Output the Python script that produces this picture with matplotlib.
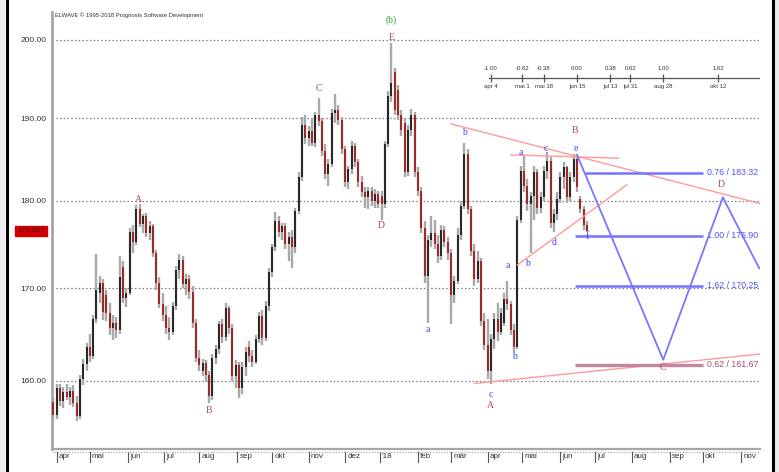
import numpy as np
import pandas as pd
import matplotlib
matplotlib.use('Agg')
import matplotlib.pyplot as plt
from matplotlib.lines import Line2D
from matplotlib.patches import Rectangle
from matplotlib.ticker import NullLocator, NullFormatter

# ---------------- data ----------------
BASE = '2017-04-03'          # business-day index origin of the time axis
bar_start = '2017-03-30'     # first (2-business-day) bar

opens = [
    157.8, 156.4, 159.2, 157.9, 158.8, 158.3, 158.9, 157.7, 156.3, 160.2,
    161.7, 163.6, 162.6, 166.6, 169.5, 170.6, 169.2, 167.3, 165.6, 166.2,
    165.4, 172.4, 168.9, 169.5, 176.4, 175.2, 179.0, 177.3, 178.2, 176.3,
    177.0, 174.0, 170.6, 168.2, 167.0, 165.6, 165.2, 168.0, 172.0, 173.2,
    170.5, 171.0, 169.6, 166.2, 162.4, 161.0, 161.9, 160.6, 158.4, 162.4,
    163.4, 166.0, 164.6, 167.8, 165.6, 160.5, 161.6, 159.2, 161.4, 163.6,
    162.6, 162.0, 164.4, 166.9, 164.5, 168.0, 171.8, 174.6, 177.6, 176.4,
    177.0, 175.0, 175.8, 174.6, 178.8, 182.8, 189.2, 187.6, 188.4, 187.0,
    190.4, 189.6, 186.0, 183.2, 184.4, 190.6, 191.0, 189.8, 186.2, 182.2,
    183.8, 186.6, 184.6, 182.2, 181.0, 180.4, 181.2, 180.0, 180.8, 180.6,
    179.6, 186.8, 192.8, 195.8, 193.6, 190.4, 189.4, 183.4, 188.6, 190.4,
    183.4, 181.2, 176.8, 171.4, 175.4, 176.2, 175.0, 173.6, 176.6, 175.2,
    174.0, 169.2, 170.8, 176.0, 179.4, 185.6, 179.0, 174.2, 171.0, 173.0,
    166.4, 163.8, 161.0, 164.4, 166.6, 165.2, 166.2, 168.8, 168.2, 165.4,
    163.6, 177.8, 183.6, 181.8, 179.6, 180.6, 183.4, 179.2, 180.4, 183.6,
    184.8, 177.4, 178.4, 180.2, 182.8, 184.0, 180.4, 182.8, 185.0, 180.2,
    179.0, 177.2]
highs = [
    158.3, 159.6, 159.6, 159.3, 159.6, 159.3, 159.5, 158.4, 160.6, 162.3,
    164.0, 165.0, 167.0, 173.8, 171.3, 171.0, 169.8, 168.4, 167.0, 166.8,
    173.6, 173.0, 170.0, 176.8, 177.2, 179.5, 179.6, 178.5, 178.6, 177.6,
    177.3, 174.3, 171.2, 169.5, 168.0, 166.8, 168.5, 172.5, 173.8, 173.6,
    171.6, 171.5, 170.2, 166.6, 163.2, 162.3, 162.2, 161.0, 162.8, 163.8,
    166.4, 166.6, 168.4, 168.0, 166.0, 162.2, 162.0, 162.0, 163.6, 164.2,
    163.2, 164.8, 167.4, 167.6, 168.6, 172.2, 175.0, 178.7, 178.2, 177.4,
    177.4, 176.4, 176.6, 179.2, 183.4, 190.2, 190.4, 189.0, 190.0, 190.8,
    192.6, 190.0, 186.8, 185.0, 191.2, 193.1, 191.6, 190.2, 186.6, 184.2,
    187.2, 187.0, 185.0, 183.0, 181.6, 181.6, 181.6, 181.4, 181.2, 181.2,
    187.2, 193.4, 199.6, 196.4, 194.2, 191.0, 190.0, 189.2, 191.2, 190.8,
    184.0, 181.6, 177.6, 176.0, 178.2, 177.8, 176.0, 177.2, 177.0, 175.8,
    174.4, 171.4, 176.8, 180.0, 186.9, 186.2, 179.4, 175.0, 174.2, 173.4,
    167.2, 166.6, 165.0, 167.2, 168.4, 167.8, 169.4, 170.8, 168.6, 166.0,
    178.2, 184.2, 185.4, 182.6, 181.0, 184.2, 183.8, 181.0, 184.2, 185.8,
    185.2, 179.0, 181.0, 183.4, 184.6, 184.2, 183.4, 185.6, 185.4, 180.6,
    179.4, 177.6]
lows = [
    155.8, 156.0, 157.4, 157.2, 158.0, 157.5, 157.3, 155.8, 156.0, 159.5,
    161.0, 162.0, 162.3, 166.2, 168.4, 166.5, 166.4, 164.8, 164.3, 164.5,
    165.0, 168.4, 167.9, 169.2, 174.0, 174.9, 176.9, 176.3, 175.8, 175.4,
    173.5, 169.8, 167.8, 166.4, 165.0, 164.3, 164.8, 167.6, 171.0, 170.0,
    169.2, 168.8, 165.6, 162.0, 161.0, 160.5, 159.9, 157.7, 158.0, 161.8,
    162.8, 164.0, 164.2, 165.0, 160.0, 159.2, 158.2, 158.6, 160.5, 162.0,
    161.4, 161.8, 164.0, 163.8, 164.2, 167.5, 171.2, 174.2, 175.8, 175.4,
    174.4, 173.0, 172.2, 174.0, 178.4, 182.4, 186.8, 186.6, 186.6, 186.4,
    189.0, 185.4, 182.6, 181.8, 184.0, 189.4, 189.2, 185.6, 181.6, 181.4,
    183.2, 184.0, 181.6, 180.4, 179.2, 179.0, 179.4, 179.2, 179.2, 177.8,
    179.2, 186.4, 192.0, 190.4, 189.8, 187.8, 182.8, 183.0, 187.8, 182.8,
    180.6, 176.2, 170.6, 166.2, 174.6, 174.4, 172.8, 173.2, 174.6, 173.2,
    166.0, 168.4, 170.4, 175.4, 179.0, 178.4, 173.6, 170.2, 170.6, 165.8,
    163.2, 160.2, 159.6, 163.4, 164.2, 164.8, 165.8, 167.6, 164.8, 163.0,
    163.4, 177.4, 181.0, 178.8, 174.0, 177.8, 178.4, 178.6, 180.0, 182.6,
    176.8, 176.4, 177.8, 179.8, 181.4, 179.8, 180.0, 182.2, 181.0, 178.6,
    176.6, 176.4]
closes = [
    156.4, 159.2, 157.9, 158.8, 158.3, 158.9, 157.7, 156.3, 160.2, 161.7,
    163.6, 162.6, 166.6, 169.8, 170.6, 167.4, 167.3, 165.6, 166.2, 165.4,
    171.2, 168.9, 169.5, 176.4, 175.2, 179.0, 177.3, 178.2, 176.3, 177.0,
    174.0, 170.6, 168.2, 167.0, 165.6, 165.2, 168.0, 172.0, 173.2, 170.5,
    171.0, 169.6, 166.2, 162.4, 161.6, 161.9, 160.6, 158.4, 162.4, 163.4,
    166.0, 164.6, 167.8, 165.6, 160.5, 161.6, 159.2, 161.4, 163.0, 162.6,
    162.0, 164.4, 166.9, 164.5, 168.0, 171.8, 174.6, 177.6, 176.4, 177.0,
    175.0, 175.8, 174.6, 178.8, 182.8, 189.2, 187.6, 188.4, 187.0, 190.4,
    189.6, 186.0, 183.2, 184.4, 190.6, 191.0, 189.8, 186.2, 182.2, 183.8,
    186.6, 184.6, 182.2, 181.0, 180.4, 181.2, 180.0, 180.8, 179.6, 179.6,
    186.8, 192.8, 194.4, 191.0, 190.4, 188.6, 183.4, 188.6, 190.4, 183.4,
    181.2, 176.8, 171.4, 175.4, 176.2, 175.0, 173.6, 176.6, 175.2, 174.0,
    169.2, 170.8, 176.0, 179.4, 185.6, 179.0, 174.2, 171.0, 173.0, 166.4,
    163.8, 161.0, 164.4, 166.6, 165.2, 167.2, 168.8, 168.2, 165.4, 163.6,
    177.8, 183.6, 181.8, 179.6, 180.6, 183.4, 179.2, 180.4, 183.6, 184.8,
    177.4, 178.4, 180.2, 182.8, 184.0, 180.4, 182.8, 185.0, 181.6, 179.0,
    177.2, 176.5]

month_labels = ['apr', 'mai', 'jun', 'jul', 'aug', 'sep', 'okt', 'nov', 'dez', "'18",
                'feb', 'mär', 'apr', 'mai', 'jun', 'jul', 'aug', 'sep', 'okt', 'nov']
y_ticks = [160, 170, 180, 190, 200]
y_tick_labels = ['160.00', '170.00', '180.00', '190.00', '200.00']
last_price_label = '176.507'

# Elliott wave labels (date, price, text)
wave_caps = [('2017-06-09', 180.1, 'A'), ('2017-08-09', 156.9, 'B'), ('2017-11-09', 193.7, 'C'),
             ('2018-01-02', 177.1, 'D'), ('2018-01-10', 200.3, 'E'), ('2018-06-14', 188.5, 'B'),
             ('2018-04-04', 157.4, 'A'), ('2018-08-28', 161.4, 'C'), ('2018-10-16', 181.9, 'D')]
wave_green = [('2018-01-10', 202.6, '(b)')]
wave_small = [('2018-03-13', 188.2, 'b'), ('2018-02-09', 165.4, 'a'), ('2018-04-04', 158.5, 'c'),
              ('2018-04-24', 162.5, 'b'), ('2018-04-18', 172.5, 'a'), ('2018-04-30', 185.8, 'a'),
              ('2018-05-04', 172.8, 'b'), ('2018-05-21', 186.3, 'c'), ('2018-05-28', 175.2, 'd'),
              ('2018-06-14', 186.3, 'e'), ('2018-06-25', 175.8, 'f')]

# trend / channel lines (dates, prices)
pink_lines = [(['2018-03-01', '2018-11-16'], [189.3, 179.7]),
              (['2018-04-20', '2018-07-20'], [185.5, 185.1]),
              (['2018-04-26', '2018-07-27'], [172.6, 181.9]),
              (['2018-03-21', '2018-11-16'], [159.7, 162.8])]

# projected path
proj_dates = ['2018-06-15', '2018-08-28', '2018-10-17', '2018-11-16']
proj_prices = [185.5, 162.2, 180.4, 172.2]

# Fibonacci price targets
fib_ratios = ['0.76', '1.00', '1.62', '0.62']
fib_values = [183.32, 175.90, 170.25, 161.67]
fib_starts = ['2018-06-22', '2018-06-14', '2018-06-14', '2018-06-14']
fib_end = '2018-10-01'

# Fibonacci time ruler
ruler_ratios = ['-1.00', '-0.62', '-0.38', '0.00', '0.38', '0.62', '1.00', '1.62']
ruler_dates = ['2018-04-04', '2018-05-01', '2018-05-18', '2018-06-15',
               '2018-07-13', '2018-07-31', '2018-08-28', '2018-10-12']
ruler_date_labels = ['apr 4', 'mai 1', 'mai 18', 'jun 15', 'jul 13', 'jul 31', 'aug 28', 'okt 12']
ruler_price = 195.1


def bx(d):
    return np.busday_count(np.datetime64(BASE, 'D'), np.asarray(d, dtype='datetime64[D]'))


# ---------------- figure ----------------
W, H = 779, 472
fig = plt.figure(figsize=(W / 100, H / 100), dpi=100)
fig.patch.set_facecolor('white')

# outer screenshot frame strips
for x0, w in [(0, 5), (774, 5)]:
    fig.add_artist(Rectangle((x0 / W, 0), w / W, 1, transform=fig.transFigure,
                             facecolor='#eeeeee', edgecolor='none'))
for xf in [6.5, 773]:
    fig.add_artist(Line2D([xf / W, xf / W], [0, 1], transform=fig.transFigure,
                          color='black', lw=2.2))

ax = fig.add_axes([52 / W, 23 / H, (760 - 52) / W, (449 - 12) / H])
ax.set_facecolor('white')
ax.set_yscale('log')
ax.set_ylim(152.99, 203.7)
ax.set_xlim(-2.84, 424.4)

# grid
ax.yaxis.set_minor_locator(NullLocator())
ax.yaxis.set_minor_formatter(NullFormatter())
ax.set_yticks(y_ticks)
ax.set_yticklabels(y_tick_labels)
ax.tick_params(axis='y', length=0, pad=4, labelsize=6, labelcolor='#333333')
for lbl in ax.get_yticklabels():
    lbl.set_fontfamily('Liberation Sans')
for v in y_ticks:
    ax.axhline(v, color='#7a7a7a', lw=0.9, ls=(0, (1.2, 1.8)), zorder=0)

ax.tick_params(axis='x', which='both', length=0, labelbottom=False)
ax.set_xticks([])
for s in ['top', 'right']:
    ax.spines[s].set_visible(False)
ax.spines['left'].set_color('#a6a6a6')
ax.spines['left'].set_linewidth(2)
ax.spines['bottom'].set_color('#a6a6a6')
ax.spines['bottom'].set_linewidth(1.6)

# month ticks & labels
month_starts = pd.date_range('2017-04-01', '2018-11-30', freq='BMS')
mx = bx(month_starts.values.astype('datetime64[D]'))
xt = ax.get_xaxis_transform()
for m, lab in zip(mx, month_labels):
    ax.plot([m, m], [-0.006, -0.03], transform=xt, color='#555555', lw=0.8, clip_on=False)
    ax.annotate(lab, xy=(m, -0.018), xycoords=xt, xytext=(1.5, 0), textcoords='offset points',
                ha='left', va='center', fontsize=5.8, color='#333333', family='Liberation Sans',
                annotation_clip=False)
ax.plot([0, 1], [-0.007, -0.007], transform=ax.transAxes, color='#9a9a9a', lw=0.8,
        ls=(0, (1, 1.5)), clip_on=False)

# candles
bar_dates = pd.bdate_range(bar_start, periods=len(closes), freq='2B').values.astype('datetime64[D]')
bxpos = bx(bar_dates)
o = np.array(opens); c = np.array(closes); h = np.array(highs); lo = np.array(lows)
ax.vlines(bxpos, lo, h, color='#a9a9a9', lw=1.7, zorder=2)
body_cols = np.where(c >= o, '#1c1c1c', '#9c1c1c')
ax.vlines(bxpos, np.minimum(o, c), np.maximum(o, c), colors=body_cols, lw=1.3, zorder=3)

# pink lines
for ds, ps in pink_lines:
    ax.plot(bx(ds), ps, color='#ff9a9a', lw=1.0, zorder=4)

# fib horizontal levels
for r, v, s in zip(fib_ratios, fib_values, fib_starts):
    col = '#c4859f' if r == '0.62' else '#7373ff'
    lw = 2.4 if r == '0.62' else 1.8
    tcol = '#a24c78' if r == '0.62' else '#5050ff'
    ax.plot(bx([s, fib_end]), [v, v], color=col, lw=lw, zorder=4, solid_capstyle='butt')
    ax.annotate(f'{r} / {v:.2f}', xy=(bx(fib_end), v), xytext=(3, 0), textcoords='offset points',
                ha='left', va='center', fontsize=6.3, color=tcol, family='Liberation Sans')

# projection
ax.plot(bx(proj_dates), proj_prices, color='#7777ff', lw=1.3, zorder=5)

# fib time ruler
rx = bx(ruler_dates)
ax.plot([rx[0] - 1, ax.get_xlim()[1]], [ruler_price, ruler_price], color='#555555', lw=0.9)
ax.plot(rx, [ruler_price] * len(rx), ls='none', marker='|', ms=6, mew=0.9, color='#555555')
for xx, r, dl in zip(rx, ruler_ratios, ruler_date_labels):
    ax.annotate(r, xy=(xx, ruler_price), xytext=(0, 6.5), textcoords='offset points',
                ha='center', va='center', fontsize=4.3, color='#333333', family='Liberation Sans')
    ax.annotate(dl, xy=(xx, ruler_price), xytext=(0, -6.5), textcoords='offset points',
                ha='center', va='center', fontsize=4.3, color='#333333', family='Liberation Sans')

# wave labels
for d, p, t in wave_caps:
    ax.text(bx(d), p, t, ha='center', va='center', fontsize=7, color='#b0407c',
            family='Liberation Serif', zorder=6)
for d, p, t in wave_green:
    ax.text(bx(d), p, t, ha='center', va='center', fontsize=7, color='#2e9a3a',
            family='Liberation Serif', zorder=6, clip_on=False)
for d, p, t in wave_small:
    ax.text(bx(d), p, t, ha='center', va='center', fontsize=7, color='#3f3fff',
            family='Liberation Serif', zorder=6)

# header text and last price box
fig.text(55 / W, 1 - 15 / H, 'ELWAVE \u00a9 1995-2018 Prognosis Software Development',
         fontsize=4.2, color='#333333', va='center', family='Liberation Sans')
fig.text(31 / W, 1 - 231 / H, last_price_label, fontsize=5.5, color='#4a0000', ha='center',
         va='center', family='Liberation Sans',
         bbox=dict(boxstyle='square,pad=0.25', facecolor='#d40000', edgecolor='#d40000'))

fig.savefig('out.png', dpi=100, facecolor='white')
